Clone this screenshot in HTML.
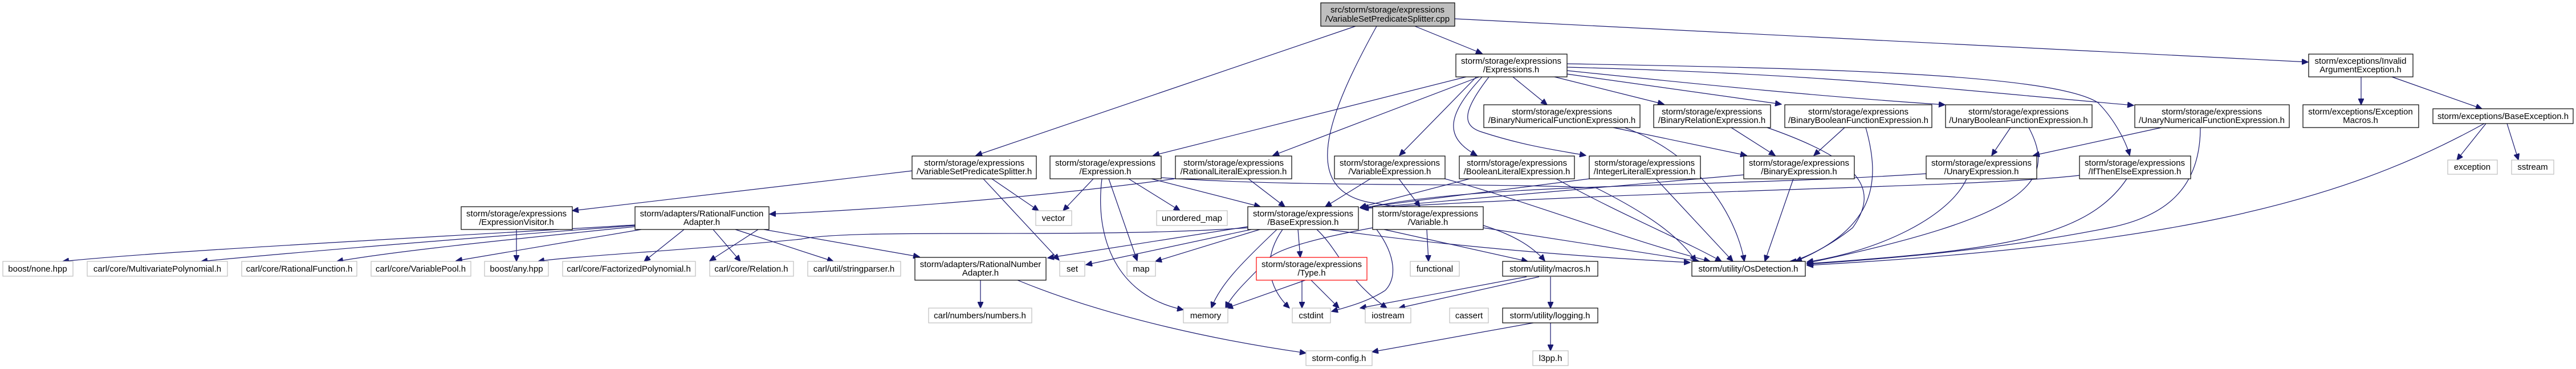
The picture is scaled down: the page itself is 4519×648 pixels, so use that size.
<!DOCTYPE html>
<html><head><meta charset="utf-8"><style>
html,body{margin:0;padding:0;background:#fff;}
svg{display:block;}
text{font-family:"Liberation Sans",sans-serif;font-size:15px;fill:#000;text-anchor:middle;}
.b{fill:#fff;stroke:#000;stroke-width:1.2;}
.g{fill:#fff;stroke:#bfbfbf;stroke-width:1.2;}
.r{fill:#fff;stroke:#ff0000;stroke-width:1.2;}
path{fill:none;stroke:#191970;stroke-width:1.2;marker-end:url(#a);}
</style></head><body>
<svg width="4519" height="648" viewBox="0 0 4519 648" xmlns="http://www.w3.org/2000/svg">
<defs><marker id="a" markerUnits="userSpaceOnUse" markerWidth="12" markerHeight="10" refX="11" refY="5" orient="auto"><path d="M0,0 L11,5 L0,10 z" style="fill:#191970;stroke:#191970;marker-end:none"/></marker></defs>

<path d="M2378,46 L1712,273"/>
<path d="M2482,46 L2600,94"/>
<path d="M2552,33 L4049,109"/>
<path d="M2415,46 C2330,200 2280,330 2400,355 C2560,380 2660,400 2710,458"/>
<path d="M2572,135 L2023,273"/>
<path d="M2595,135 L2233,273"/>
<path d="M2590,135 L2455,273"/>
<path d="M2600,135 C2540,200 2530,240 2591,273"/>
<path d="M2612,135 C2570,190 2560,220 2600,232 C2680,258 2740,265 2782,273"/>
<path d="M2654,135 L2714,184"/>
<path d="M2727,135 L2919,183"/>
<path d="M2749,130 L3125,183"/>
<path d="M2749,124 C3000,150 3200,170 3412,184"/>
<path d="M2749,118 C3200,130 3400,155 3743,185"/>
<path d="M2749,112 C3200,120 3600,130 3680,180 C3710,210 3730,250 3736,273"/>
<path d="M1600,300 L1004,370"/>
<path d="M1740,314 L1822,370"/>
<path d="M1725,314 L1858,457"/>
<path d="M1114,395 C700,420 300,440 110,459"/>
<path d="M906,403 L906,459"/>
<path d="M1114,396 C800,420 550,440 353,459"/>
<path d="M1114,398 C900,420 700,440 591,459"/>
<path d="M1125,403 L800,458"/>
<path d="M1330,403 L1245,458"/>
<path d="M1200,403 L1130,459"/>
<path d="M1251,403 L1299,459"/>
<path d="M1290,403 L1462,459"/>
<path d="M1340,403 L1613,451"/>
<path d="M2060,314 C1800,350 1500,370 1350,376"/>
<path d="M1918,314 L1865,370"/>
<path d="M1980,314 L2070,370"/>
<path d="M1945,314 L1995,458"/>
<path d="M1933,314 C1920,420 1960,520 2076,544"/>
<path d="M2020,314 L2211,363"/>
<path d="M2037,312 C2300,330 2600,320 2800,330 C2900,380 2950,420 2975,459"/>
<path d="M2190,314 L2254,363"/>
<path d="M2189,400 C1900,420 1500,400 1405,420 C1200,440 1000,450 944,459"/>
<path d="M2189,398 L1838,453"/>
<path d="M2195,403 L1905,465"/>
<path d="M2210,403 L2027,459"/>
<path d="M2240,403 C2180,460 2140,500 2125,541"/>
<path d="M2250,403 C2210,460 2230,510 2262,541"/>
<path d="M2277,403 L2281,452"/>
<path d="M2310,403 C2350,440 2360,490 2433,541"/>
<path d="M2330,403 C2600,440 2850,455 2965,461"/>
<path d="M2290,492 L2152,541"/>
<path d="M2284,492 L2284,541"/>
<path d="M2300,492 L2349,541"/>
<path d="M2503,403 L2506,459"/>
<path d="M2428,403 L2680,459"/>
<path d="M2415,403 C2450,450 2450,490 2430,510 C2400,530 2360,540 2336,547"/>
<path d="M2602,400 L2981,459"/>
<path d="M2408,400 C2300,420 2230,440 2220,460 C2180,500 2160,520 2150,541"/>
<path d="M2404,314 L2325,363"/>
<path d="M2454,314 L2491,363"/>
<path d="M2535,314 C2700,360 2850,420 3000,459"/>
<path d="M2578,314 L2386,364"/>
<path d="M2730,314 C2850,380 2950,420 3020,459"/>
<path d="M2788,314 L2386,365"/>
<path d="M2905,314 L3040,459"/>
<path d="M3059,307 L2388,366"/>
<path d="M3146,314 L3096,459"/>
<path d="M2830,224 L3064,273"/>
<path d="M2850,224 C3000,280 3050,400 3060,459"/>
<path d="M3037,224 L3114,273"/>
<path d="M3100,224 C3260,280 3300,330 3250,400 C3200,440 3150,459 3140,459"/>
<path d="M3236,224 L3182,273"/>
<path d="M3273,224 C3300,320 3290,400 3150,459"/>
<path d="M3527,224 L3494,273"/>
<path d="M3559,224 C3610,320 3560,380 3170,462"/>
<path d="M3792,224 L3567,273"/>
<path d="M3860,224 C3860,330 3800,380 3700,400 C3500,440 3300,455 3170,464"/>
<path d="M3379,305 C3000,330 2600,320 2390,366"/>
<path d="M3450,314 C3420,380 3300,440 3170,460"/>
<path d="M3648,308 C3450,330 3000,330 2390,366"/>
<path d="M3731,314 C3660,420 3500,440 3170,463"/>
<path d="M4142,135 L4142,184"/>
<path d="M4196,135 L4354,191"/>
<path d="M4361,217 L4310,281"/>
<path d="M4398,217 L4418,281"/>
<path d="M4358,217 C4100,360 3800,430 3170,466"/>
<path d="M2678,486 L2386,541"/>
<path d="M2700,486 L2454,541"/>
<path d="M2720,486 L2720,541"/>
<path d="M2690,567 L2407,618"/>
<path d="M2720,567 L2720,616"/>
<path d="M1720,492 L1720,541"/>
<path d="M1785,492 C1950,560 2150,600 2291,620"/>

<rect x="2317" y="5" width="235" height="41" style="fill:#bfbfbf;stroke:#000;stroke-width:1.2"/>
<text x="2434" y="22">src/storm/storage/expressions</text><text x="2434" y="38">/VariableSetPredicateSplitter.cpp</text>

<rect class="b" x="2554" y="95" width="195" height="40"/><text x="2651" y="112">storm/storage/expressions</text><text x="2651" y="127">/Expressions.h</text>
<rect class="b" x="4050" y="95" width="183" height="40"/><text x="4141" y="112">storm/exceptions/Invalid</text><text x="4141" y="127">ArgumentException.h</text>

<rect class="b" x="2603" y="184" width="274" height="40"/><text x="2740" y="201">storm/storage/expressions</text><text x="2740" y="216">/BinaryNumericalFunctionExpression.h</text>
<rect class="b" x="2901" y="184" width="205" height="40"/><text x="3003" y="201">storm/storage/expressions</text><text x="3003" y="216">/BinaryRelationExpression.h</text>
<rect class="b" x="3131" y="184" width="258" height="40"/><text x="3260" y="201">storm/storage/expressions</text><text x="3260" y="216">/BinaryBooleanFunctionExpression.h</text>
<rect class="b" x="3413" y="184" width="257" height="40"/><text x="3541" y="201">storm/storage/expressions</text><text x="3541" y="216">/UnaryBooleanFunctionExpression.h</text>
<rect class="b" x="3745" y="184" width="271" height="40"/><text x="3880" y="201">storm/storage/expressions</text><text x="3880" y="216">/UnaryNumericalFunctionExpression.h</text>
<rect class="b" x="4040" y="184" width="203" height="40"/><text x="4141" y="201">storm/exceptions/Exception</text><text x="4141" y="216">Macros.h</text>
<rect class="b" x="4268" y="191" width="246" height="26"/><text x="4391" y="209">storm/exceptions/BaseException.h</text>

<rect class="b" x="1600" y="274" width="218" height="40"/><text x="1709" y="291">storm/storage/expressions</text><text x="1709" y="306">/VariableSetPredicateSplitter.h</text>
<rect class="b" x="1842" y="274" width="195" height="40"/><text x="1939" y="291">storm/storage/expressions</text><text x="1939" y="306">/Expression.h</text>
<rect class="b" x="2062" y="274" width="204" height="40"/><text x="2164" y="291">storm/storage/expressions</text><text x="2164" y="306">/RationalLiteralExpression.h</text>
<rect class="b" x="2341" y="274" width="194" height="40"/><text x="2438" y="291">storm/storage/expressions</text><text x="2438" y="306">/VariableExpression.h</text>
<rect class="b" x="2560" y="274" width="202" height="40"/><text x="2661" y="291">storm/storage/expressions</text><text x="2661" y="306">/BooleanLiteralExpression.h</text>
<rect class="b" x="2788" y="274" width="195" height="40"/><text x="2885" y="291">storm/storage/expressions</text><text x="2885" y="306">/IntegerLiteralExpression.h</text>
<rect class="b" x="3059" y="274" width="194" height="40"/><text x="3156" y="291">storm/storage/expressions</text><text x="3156" y="306">/BinaryExpression.h</text>
<rect class="b" x="3379" y="274" width="194" height="40"/><text x="3476" y="291">storm/storage/expressions</text><text x="3476" y="306">/UnaryExpression.h</text>
<rect class="b" x="3648" y="274" width="195" height="40"/><text x="3745" y="291">storm/storage/expressions</text><text x="3745" y="306">/IfThenElseExpression.h</text>
<rect class="g" x="4294" y="281" width="87" height="25"/><text x="4337" y="298">exception</text>
<rect class="g" x="4406" y="281" width="74" height="25"/><text x="4443" y="298">sstream</text>

<rect class="b" x="809" y="363" width="195" height="40"/><text x="906" y="380">storm/storage/expressions</text><text x="906" y="395">/ExpressionVisitor.h</text>
<rect class="b" x="1114" y="363" width="235" height="40"/><text x="1231" y="380">storm/adapters/RationalFunction</text><text x="1231" y="395">Adapter.h</text>
<rect class="g" x="1817" y="370" width="63" height="26"/><text x="1848" y="388">vector</text>
<rect class="g" x="2029" y="370" width="124" height="26"/><text x="2091" y="388">unordered_map</text>
<rect class="b" x="2189" y="363" width="194" height="40"/><text x="2286" y="380">storm/storage/expressions</text><text x="2286" y="395">/BaseExpression.h</text>
<rect class="b" x="2408" y="363" width="194" height="40"/><text x="2505" y="380">storm/storage/expressions</text><text x="2505" y="395">/Variable.h</text>

<rect class="g" x="5" y="459" width="123" height="26"/><text x="66" y="477">boost/none.hpp</text>
<rect class="g" x="153" y="459" width="246" height="26"/><text x="276" y="477">carl/core/MultivariatePolynomial.h</text>
<rect class="g" x="424" y="459" width="202" height="26"/><text x="525" y="477">carl/core/RationalFunction.h</text>
<rect class="g" x="651" y="459" width="175" height="26"/><text x="738" y="477">carl/core/VariablePool.h</text>
<rect class="g" x="850" y="459" width="112" height="26"/><text x="906" y="477">boost/any.hpp</text>
<rect class="g" x="987" y="459" width="233" height="26"/><text x="1103" y="477">carl/core/FactorizedPolynomial.h</text>
<rect class="g" x="1245" y="459" width="147" height="26"/><text x="1318" y="477">carl/core/Relation.h</text>
<rect class="g" x="1417" y="459" width="163" height="26"/><text x="1498" y="477">carl/util/stringparser.h</text>
<rect class="b" x="1605" y="452" width="230" height="40"/><text x="1720" y="469">storm/adapters/RationalNumber</text><text x="1720" y="484">Adapter.h</text>
<rect class="g" x="1859" y="459" width="44" height="26"/><text x="1881" y="477">set</text>
<rect class="g" x="1977" y="459" width="50" height="26"/><text x="2002" y="477">map</text>
<rect class="r" x="2204" y="452" width="194" height="40"/><text x="2301" y="469">storm/storage/expressions</text><text x="2301" y="484">/Type.h</text>
<rect class="g" x="2474" y="459" width="86" height="26"/><text x="2517" y="477">functional</text>
<rect class="b" x="2636" y="459" width="167" height="26"/><text x="2719" y="477">storm/utility/macros.h</text>
<rect class="b" x="2968" y="459" width="199" height="26"/><text x="3067" y="477">storm/utility/OsDetection.h</text>

<rect class="g" x="1629" y="541" width="181" height="26"/><text x="1719" y="559">carl/numbers/numbers.h</text>
<rect class="g" x="2076" y="541" width="78" height="26"/><text x="2115" y="559">memory</text>
<rect class="g" x="2267" y="541" width="67" height="26"/><text x="2300" y="559">cstdint</text>
<rect class="g" x="2395" y="541" width="80" height="26"/><text x="2435" y="559">iostream</text>
<rect class="g" x="2543" y="541" width="68" height="26"/><text x="2577" y="559">cassert</text>
<rect class="b" x="2636" y="541" width="167" height="26"/><text x="2719" y="559">storm/utility/logging.h</text>

<rect class="g" x="2291" y="616" width="116" height="26"/><text x="2349" y="634">storm-config.h</text>
<rect class="g" x="2689" y="616" width="62" height="26"/><text x="2720" y="634">l3pp.h</text>
</svg>
</body></html>
